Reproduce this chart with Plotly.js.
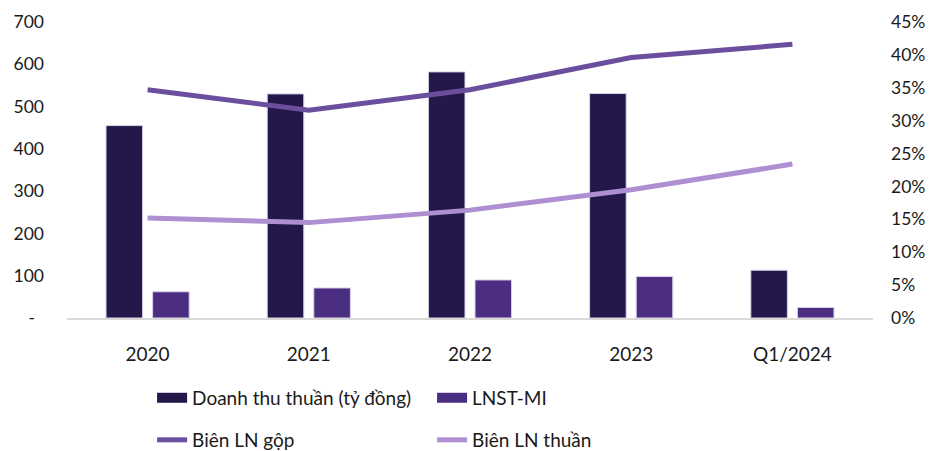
<!DOCTYPE html>
<html>
<head>
<meta charset="utf-8">
<script src="https://cdn.plot.ly/plotly-3.0.1.min.js"></script>
<style>html,body{margin:0;padding:0;background:#fff;}#chart{width:933px;height:451px;}</style>
</head>
<body>
<div id="chart"></div>
<script>
const categories = ["2020", "2021", "2022", "2023", "Q1/2024"];
const doanhThu = [455, 530, 582, 531, 113];
const lnst = [62, 71, 90, 98, 25];
const bienGop = [0.347, 0.316, 0.347, 0.396, 0.416];
const bienThuan = [0.152, 0.145, 0.164, 0.195, 0.234];
const leftTicks = [0, 100, 200, 300, 400, 500, 600, 700];
const leftTickText = ["-\u00a0\u00a0", "100", "200", "300", "400", "500", "600", "700"];
const rightTicks = [0, 0.05, 0.10, 0.15, 0.20, 0.25, 0.30, 0.35, 0.40, 0.45];

const cBar1 = "#24184a", cBar2 = "#4b2d82", cLine1 = "#6b4e9e", cLine2 = "#ad8fd2";
const FONT = "Lato, 'Open Sans', sans-serif";

const traces = [
  {type: "bar", x: categories, y: doanhThu, name: "Doanh thu thuần (tỷ đồng)", showlegend: false,
   marker: {color: cBar1, line: {color: "#d9d2e9", width: 1}}, hoverinfo: "skip"},
  {type: "bar", x: categories, y: lnst, name: "LNST-MI", showlegend: false,
   marker: {color: cBar2, line: {color: "#d9d2e9", width: 1}}, hoverinfo: "skip"},
  {type: "scatter", mode: "lines", x: categories, y: bienGop, yaxis: "y2", name: "Biên LN gộp",
   line: {color: cLine1, width: 5}, legend: "legend2"},
  {type: "scatter", mode: "lines", x: categories, y: bienThuan, yaxis: "y2", name: "Biên LN thuần",
   line: {color: cLine2, width: 5}, legend: "legend2"},
  // legend keys for the bar series (drawn as wide blocks like the reference)
  {type: "scatter", mode: "lines", x: [null], y: [null], name: "Doanh thu thuần (tỷ đồng)",
   line: {color: cBar1, width: 12}, legend: "legend"},
  {type: "scatter", mode: "lines", x: [null], y: [null], name: "LNST-MI",
   line: {color: cBar2, width: 12}, legend: "legend"}
];

const legendBase = {orientation: "h", xref: "container", x: 0.163, xanchor: "left",
  yanchor: "middle", entrywidth: 235, font: {size: 19, color: "#1a1a1a"},
  bgcolor: "rgba(0,0,0,0)", borderwidth: 0, traceorder: "normal"};

const layout = {
  width: 933, height: 451,
  margin: {l: 67, r: 60, t: 22, b: 133, pad: 0, autoexpand: false},
  paper_bgcolor: "#fff", plot_bgcolor: "#fff",
  font: {family: FONT, size: 17, color: "#1a1a1a"},
  barmode: "group", bargap: 0.422, bargroupgap: 0.215,
  xaxis: {type: "category", showgrid: false, zeroline: false, showline: true, automargin: false,
          linecolor: "#d9d9d9", linewidth: 2, ticks: "", ticklabelstandoff: 18,
          tickfont: {size: 19}},
  yaxis: {range: [0, 700], tickvals: leftTicks, ticktext: leftTickText, showgrid: false,
          zeroline: false, showline: false, ticks: "", ticklabelstandoff: 22, automargin: false,
          tickfont: {size: 17.5}},
  yaxis2: {range: [0, 0.45], overlaying: "y", side: "right", tickvals: rightTicks,
           tickformat: ".0%", showgrid: false, zeroline: false, showline: false, automargin: false,
           ticks: "", ticklabelstandoff: 17, tickfont: {size: 17.5}},
  showlegend: true,
  legend: Object.assign({}, legendBase, {y: -0.27}),
  legend2: Object.assign({}, legendBase, {y: -0.412})
};

Plotly.newPlot("chart", traces, layout, {displayModeBar: false, staticPlot: true});
</script>
</body>
</html>
